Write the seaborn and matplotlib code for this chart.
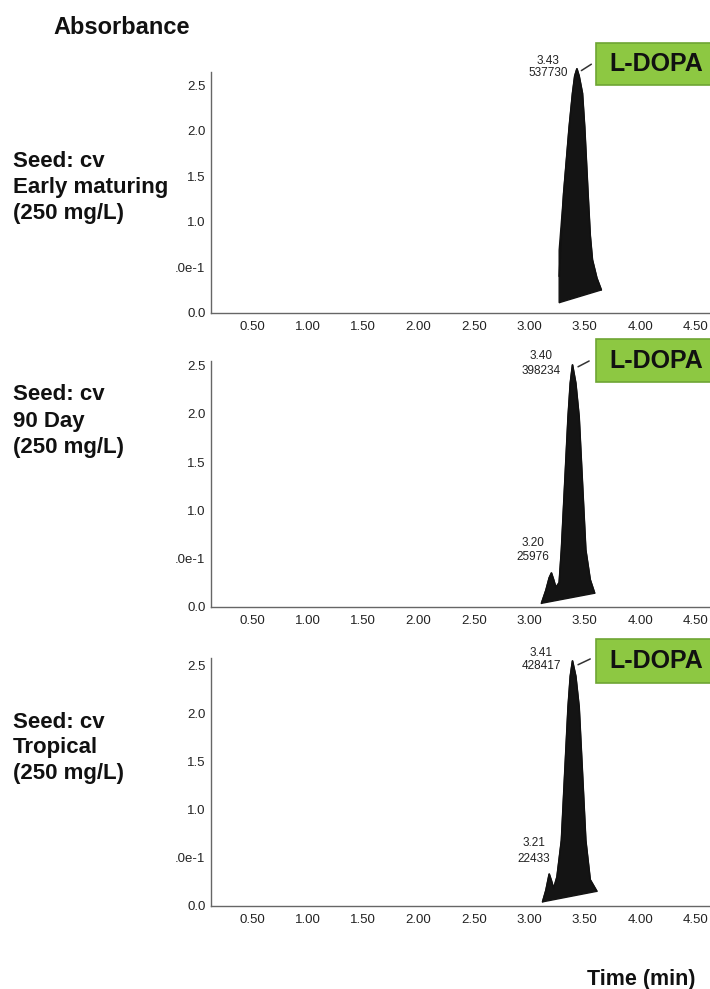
import matplotlib
matplotlib.use("Agg")
import matplotlib.pyplot as plt
from matplotlib.patches import Rectangle
import seaborn as sns
import pandas as pd

# ---------------- data ----------------
x_ticks = [0.50, 1.00, 1.50, 2.00, 2.50, 3.00, 3.50, 4.00, 4.50]
x_tick_labels = ["0.50", "1.00", "1.50", "2.00", "2.50", "3.00", "3.50", "4.00", "4.50"]
y_ticks = [0.0, 0.5, 1.0, 1.5, 2.0, 2.5]
y_tick_labels = ["0.0", ".0e-1", "1.0", "1.5", "2.0", "2.5"]

sample_labels = [
    "Seed: cv\nEarly maturing\n(250 mg/L)",
    "Seed: cv\n90 Day\n(250 mg/L)",
    "Seed: cv\nTropical\n(250 mg/L)",
]

# peak outlines (time in min, absorbance); polygon closed by a straight baseline
t1 = [3.27, 3.27, 3.31, 3.36, 3.39, 3.41, 3.43, 3.45, 3.48, 3.50, 3.53, 3.55, 3.57, 3.61, 3.65]
a1 = [0.11, 0.69, 1.31, 2.04, 2.41, 2.60, 2.68, 2.60, 2.41, 2.04, 1.31, 0.85, 0.58, 0.38, 0.25]

t2 = [3.11, 3.15, 3.18, 3.20, 3.22, 3.24, 3.27, 3.29, 3.32, 3.35, 3.37, 3.39, 3.42, 3.45, 3.48, 3.51, 3.55, 3.59]
a2 = [0.035, 0.17, 0.30, 0.35, 0.28, 0.20, 0.25, 0.59, 1.28, 1.97, 2.32, 2.51, 2.32, 1.97, 1.28, 0.59, 0.28, 0.14]

t3 = [3.12, 3.15, 3.18, 3.20, 3.22, 3.25, 3.29, 3.32, 3.35, 3.37, 3.39, 3.42, 3.45, 3.48, 3.51, 3.55, 3.61]
a3 = [0.04, 0.16, 0.33, 0.26, 0.18, 0.30, 0.68, 1.38, 2.07, 2.39, 2.55, 2.39, 2.07, 1.38, 0.68, 0.27, 0.15]

# peak annotations: (retention time text, area text)
main_peaks = [("3.43", "537730"), ("3.40", "398234"), ("3.41", "428417")]
minor_peaks = [None, ("3.20", "25976"), ("3.21", "22433")]

compound = "L-DOPA"

# ---------------- layout ----------------
W, H = 710, 989
fig = plt.figure(figsize=(W / 100, H / 100), dpi=100)
sns.set_theme(style="white")
plt.rcParams["font.family"] = ["Liberation Sans", "DejaVu Sans"]

def fy(px):
    return 1 - px / H

# axes geometry in pixels: (zero-line y, top y)
panels_px = [(312.7, 71.5), (606.7, 361.0), (905.7, 658.0)]
ylims = [2.65, 2.55, 2.58]
left_px = 211
xlim = (0.13, 4.63)

series = [(t1, a1), (t2, a2), (t3, a3)]
main_ann_pos = [(3.17, 2.77, 2.63), (3.11, 2.60, 2.45), (3.11, 2.63, 2.50)]
minor_ann_pos = [None, (3.03, 0.665, 0.52), (3.04, 0.65, 0.49)]
leaders = [((3.47, 3.56), (2.66, 2.73)), ((3.44, 3.54), (2.49, 2.55)), ((3.44, 3.55), (2.51, 2.57))]
box_px = [(43, 85), (339, 382), (639, 683)]
label_px = [(161, 188, 213), (395, 422, 448), (722, 748, 774)]

for i in range(3):
    zero_y, top_y = panels_px[i]
    ax = fig.add_axes([left_px / W, fy(zero_y), 1 - left_px / W, (zero_y - top_y) / H])
    t, a = series[i]
    df = pd.DataFrame({"time": t, "abs": a})
    ax.fill(df["time"], df["abs"], color="#141414", zorder=3, clip_on=False)
    sns.lineplot(data=df, x="time", y="abs", ax=ax, color="#111111", lw=1.2,
                 sort=False, zorder=4, clip_on=False)
    ax.set_xlim(*xlim)
    ax.set_ylim(0, ylims[i])
    ax.set_xticks(x_ticks)
    ax.set_xticklabels(x_tick_labels)
    ax.set_yticks(y_ticks)
    ax.set_yticklabels(y_tick_labels)
    ax.set_xlabel("")
    ax.set_ylabel("")
    ax.tick_params(axis="both", length=0, labelsize=9.5, colors="#222222")
    ax.tick_params(axis="x", pad=6)
    ax.tick_params(axis="y", pad=4)
    for s in ["top", "right"]:
        ax.spines[s].set_visible(False)
    for s in ["left", "bottom"]:
        ax.spines[s].set_color("#666666")
        ax.spines[s].set_linewidth(1.0)
        ax.spines[s].set_linestyle((0, (4, 1)))
    ax.patch.set_alpha(0)

    # peak annotations
    rt, area = main_peaks[i]
    xa, ya1, ya2 = main_ann_pos[i]
    ax.text(xa, ya1, rt, ha="center", va="center", fontsize=8.5, color="#222222")
    ax.text(xa, ya2, area, ha="center", va="center", fontsize=8.5, color="#222222")
    if minor_peaks[i] is not None:
        rt, area = minor_peaks[i]
        xa, ya1, ya2 = minor_ann_pos[i]
        ax.text(xa, ya1, rt, ha="center", va="center", fontsize=8.5, color="#222222")
        ax.text(xa, ya2, area, ha="center", va="center", fontsize=8.5, color="#222222")
    lx, ly = leaders[i]
    ax.plot(lx, ly, color="#333333", lw=1.1, clip_on=False)

    # green compound box
    b0, b1 = box_px[i]
    fig.patches.append(Rectangle((596 / W, fy(b1)), (W - 596) / W + 0.01, (b1 - b0) / H,
                                 transform=fig.transFigure, facecolor="#8dc842",
                                 edgecolor="#6ea534", lw=1.2, zorder=5))
    fig.text(656 / W, fy((b0 + b1) / 2), compound, ha="center", va="center",
             fontsize=18, fontweight="bold", color="#111111", zorder=6)

    # sample labels
    for line, ypx in zip(sample_labels[i].split("\n"), label_px[i]):
        fig.text(13 / W, fy(ypx), line, ha="left", va="center",
                 fontsize=16, fontweight="bold", color="#111111")

fig.text(122 / W, fy(27), "Absorbance", ha="center", va="center",
         fontsize=17, fontweight="bold", color="#111111")
fig.text(641 / W, fy(979), "Time (min)", ha="center", va="center",
         fontsize=15.5, fontweight="bold", color="#111111")

fig.savefig("out.png", dpi=100)
